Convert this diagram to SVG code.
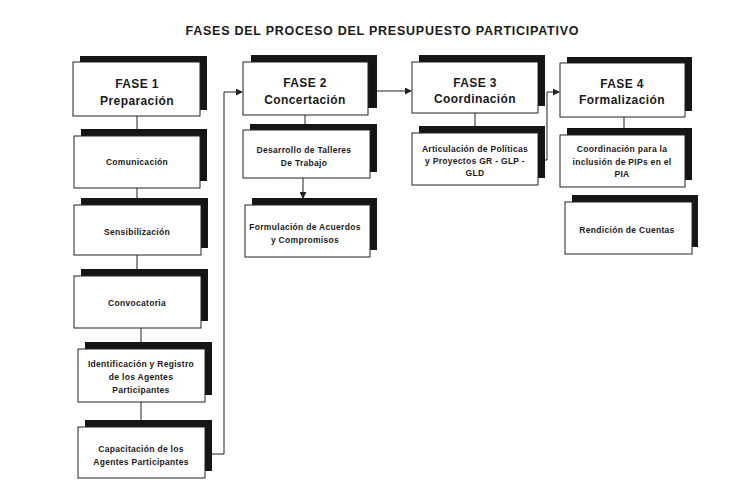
<svg xmlns="http://www.w3.org/2000/svg" width="730" height="494" viewBox="0 0 730 494">
<defs>
<style>
.sh{fill:#151515}
.bx{fill:#fff;stroke:#222;stroke-width:1}
.hd{font-family:"Liberation Sans",Arial,sans-serif;font-weight:bold;font-size:12px;fill:#1a1a1a;text-anchor:middle;letter-spacing:0.4px}
.tx{font-family:"Liberation Sans",Arial,sans-serif;font-weight:bold;font-size:8.5px;fill:#1a1a1a;text-anchor:middle;letter-spacing:0.3px}
.ttl{font-family:"Liberation Sans",Arial,sans-serif;font-weight:bold;font-size:12.5px;fill:#1a1a1a;text-anchor:middle}
.ln{fill:none;stroke:#222;stroke-width:1}
</style>
<marker id="ah" viewBox="0 0 8 8" refX="7" refY="4" markerWidth="7" markerHeight="7" markerUnits="userSpaceOnUse" orient="auto">
<path d="M0,0 L8,4 L0,8 z" fill="#222"/>
</marker>
</defs>
<rect width="730" height="494" fill="#fff"/>
<text class="ttl" x="382" y="35" textLength="393">FASES DEL PROCESO DEL PRESUPUESTO PARTICIPATIVO</text>

<g id="connectors">
<path class="ln" d="M137,116 V129"/>
<path class="ln" d="M137,188 V198"/>
<path class="ln" d="M137,255 V269"/>
<path class="ln" d="M141,328 V342"/>
<path class="ln" d="M141,402 V420"/>
<path class="ln" d="M205,454 H224 V92 H242" marker-end="url(#ah)"/>
<path class="ln" d="M305,115 V124"/>
<path class="ln" d="M303,178 V198" marker-end="url(#ah)"/>
<path class="ln" d="M368,91 H411" marker-end="url(#ah)"/>
<path class="ln" d="M475,113 V126"/>
<path class="ln" d="M538,160 H547 V92 H559" marker-end="url(#ah)"/>
<path class="ln" d="M624,117 V128"/>
</g>

<g id="fase1">
<rect class="sh" x="80" y="56" width="127" height="54"/>
<rect class="bx" x="73" y="62" width="127" height="54"/>
<text class="hd" x="137" y="88">FASE 1</text>
<text class="hd" x="137" y="105">Preparación</text>
</g>
<g id="comunicacion">
<rect class="sh" x="81" y="129" width="126" height="52"/>
<rect class="bx" x="74" y="136" width="126" height="52"/>
<text class="tx" x="137" y="165">Comunicación</text>
</g>
<g id="sensibilizacion">
<rect class="sh" x="81" y="198" width="127" height="50"/>
<rect class="bx" x="74" y="205" width="127" height="50"/>
<text class="tx" x="137" y="235">Sensibilización</text>
</g>
<g id="convocatoria">
<rect class="sh" x="81" y="269" width="127" height="52"/>
<rect class="bx" x="74" y="276" width="127" height="52"/>
<text class="tx" x="137" y="306">Convocatoria</text>
</g>
<g id="identificacion">
<rect class="sh" x="85" y="342" width="127" height="53"/>
<rect class="bx" x="78" y="349" width="127" height="53"/>
<text class="tx" x="141" y="367">Identificación y Registro</text>
<text class="tx" x="141" y="380">de los Agentes</text>
<text class="tx" x="141" y="393">Participantes</text>
</g>
<g id="capacitacion">
<rect class="sh" x="85" y="420" width="127" height="51"/>
<rect class="bx" x="78" y="427" width="127" height="51"/>
<text class="tx" x="141" y="452">Capacitación de los</text>
<text class="tx" x="141" y="465">Agentes Participantes</text>
</g>

<g id="fase2">
<rect class="sh" x="251" y="55" width="126" height="53"/>
<rect class="bx" x="243" y="62" width="125" height="53"/>
<text class="hd" x="305" y="87">FASE 2</text>
<text class="hd" x="305" y="104">Concertación</text>
</g>
<g id="desarrollo">
<rect class="sh" x="250" y="124" width="127" height="48"/>
<rect class="bx" x="243" y="130" width="127" height="48"/>
<text class="tx" x="304" y="153">Desarrollo de Talleres</text>
<text class="tx" x="304" y="166">De Trabajo</text>
</g>
<g id="formulacion">
<rect class="sh" x="252" y="198" width="125" height="52"/>
<rect class="bx" x="245" y="205" width="125" height="52"/>
<text class="tx" x="305" y="230">Formulación de Acuerdos</text>
<text class="tx" x="305" y="243">y Compromisos</text>
</g>

<g id="fase3">
<rect class="sh" x="419" y="55" width="126" height="51"/>
<rect class="bx" x="412" y="62" width="126" height="51"/>
<text class="hd" x="475" y="87">FASE 3</text>
<text class="hd" x="475" y="103">Coordinación</text>
</g>
<g id="articulacion">
<rect class="sh" x="419" y="126" width="126" height="52"/>
<rect class="bx" x="412" y="133" width="126" height="52"/>
<text class="tx" x="475" y="152">Articulación de Políticas</text>
<text class="tx" x="475" y="164">y Proyectos GR - GLP -</text>
<text class="tx" x="475" y="176">GLD</text>
</g>

<g id="fase4">
<rect class="sh" x="567" y="57" width="125" height="54"/>
<rect class="bx" x="560" y="63" width="125" height="54"/>
<text class="hd" x="622" y="88">FASE 4</text>
<text class="hd" x="622" y="104">Formalización</text>
</g>
<g id="coordinacion">
<rect class="sh" x="567" y="128" width="125" height="52"/>
<rect class="bx" x="560" y="135" width="125" height="52"/>
<text class="tx" x="622" y="152">Coordinación para la</text>
<text class="tx" x="622" y="165">inclusión de PIPs en el</text>
<text class="tx" x="622" y="177">PIA</text>
</g>
<g id="rendicion">
<rect class="sh" x="572" y="195" width="126" height="52"/>
<rect class="bx" x="565" y="202" width="127" height="52"/>
<text class="tx" x="627" y="233">Rendición de Cuentas</text>
</g>
</svg>
